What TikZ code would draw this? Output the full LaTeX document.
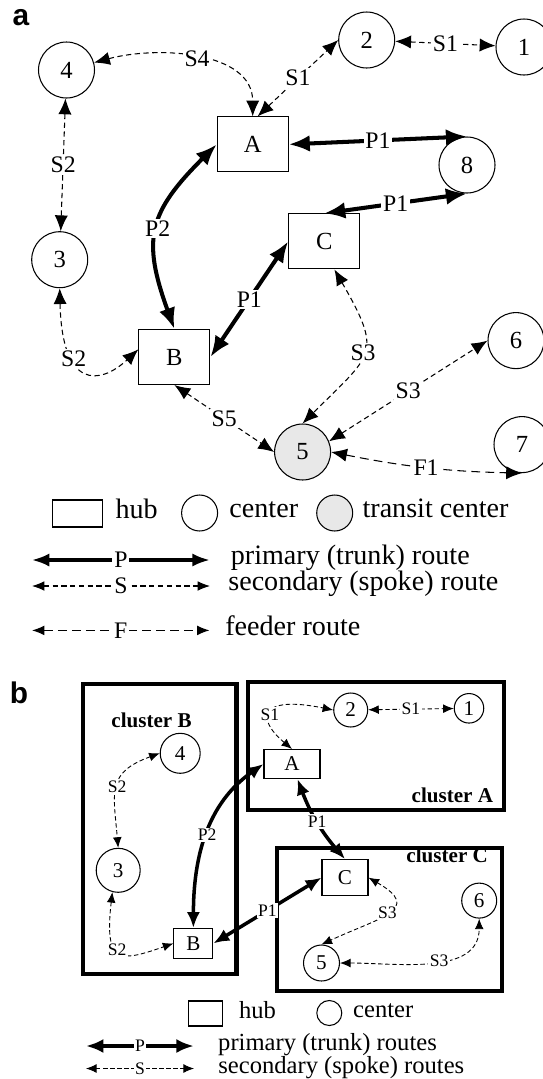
\documentclass[tikz,border=0pt]{standalone}
\usepackage{fontspec}
\setmainfont{Liberation Serif}
\newfontfamily\panelfont{Liberation Sans}
\usetikzlibrary{arrows.meta,positioning}

\begin{document}
\begin{tikzpicture}[x=0.02cm, y=0.02cm,
		hub/.style={draw, line width=0.6pt, minimum width=1.42cm, minimum height=1.1cm, inner sep=0pt, font=\fontsize{14}{16}\selectfont},
		cen/.style={draw, circle, line width=0.6pt, minimum size=1.12cm, inner sep=0pt, font=\fontsize{14}{16}\selectfont},
		transit/.style={cen, fill=black!9},
		trunk/.style={<->, line width=2.3pt, >={Latex[length=12pt, width=9.5pt]}},
		spoke/.style={<->, line width=0.6pt, dash pattern=on 3pt off 2pt, >={Latex[length=9pt, width=7.5pt]}},
		feeder/.style={spoke, dash pattern=on 5pt off 3pt},
		lab/.style={fill=white, inner sep=1pt, font=\fontsize{13.5}{15}\selectfont},
		legtext/.style={inner sep=0pt, text height=0.78em, text depth=0.22em, font=\fontsize{16}{18}\selectfont},
		bhub/.style={draw, line width=0.6pt, inner sep=0pt, font=\fontsize{12}{14}\selectfont},
		bcen/.style={draw, circle, line width=0.6pt, minimum size=0.7cm, inner sep=0pt, font=\fontsize{12}{14}\selectfont},
		btrunk/.style={<->, line width=2pt, >={Latex[length=9pt, width=7.5pt]}},
		bspoke/.style={<->, line width=0.5pt, dash pattern=on 2.5pt off 1.5pt, >={Latex[length=6pt, width=5pt]}},
		blab/.style={fill=white, inner sep=0.8pt, font=\fontsize{10}{12}\selectfont},
		blegtext/.style={inner sep=0pt, text height=0.72em, text depth=0.2em, font=\fontsize{14}{16}\selectfont},
		cluster/.style={line width=2.3pt},
		clab/.style={inner sep=0pt, font=\bfseries\fontsize{12}{14}\selectfont},
		panel/.style={font=\panelfont\bfseries\fontsize{17}{19}\selectfont}]
		\useasboundingbox (0,0) rectangle (543,-1079);

		\node[panel] (pa) at (21,-18) {a};
		\node[hub] (A) at (252.7,-144.4) {A};
		\node[hub] (B) at (174.4,-357) {B};
		\node[hub] (C) at (324.2,-241.4) {C};
		\node[cen] (n1) at (524,-47) {1};
		\node[cen] (n2) at (366.7,-40) {2};
		\node[cen] (n3) at (59.7,-259.7) {3};
		\node[cen] (n4) at (66.5,-70) {4};
		\node[transit] (n5) at (302.6,-452) {5};
		\node[cen] (n6) at (516,-340.6) {6};
		\node[cen] (n7) at (522,-444.6) {7};
		\node[cen] (n8) at (467,-165) {8};

		\path (n4) edge[spoke, out=15, in=90] node[lab] {S4} (A)
		           edge[spoke] node[lab] {S2} (n3)
		      (A.80) edge[spoke] node[lab] {S1} (n2.west)
		      (n2) edge[spoke] node[lab] {S1} (n1)
		      (A.east) edge[trunk] node[lab] {P1} (n8.north)
		      (C.north) edge[trunk] node[lab] {P1} (n8.south)
		      (B.north) edge[trunk, out=110, in=225, looseness=1.3] node[lab] {P2} (A.west)
		      (B.east) edge[trunk] node[lab] {P1} (C.west)
		      (C.290) edge[spoke, out=-60, in=45, looseness=1.6] node[lab] {S3} (n5.north)
		      (B.south) edge[spoke] node[lab] {S5} (n5.west)
		      (n5.22) edge[spoke] node[lab] {S3} (n6.west)
		      (n5.east) edge[feeder, bend right=5] node[lab] {F1} (n7.south);
		\draw[spoke] (n3.south) .. controls (62,-390) and (100,-385) .. node[lab, pos=0.35] {S2} (B.168);

		\node[draw, line width=0.6pt, minimum width=1cm, minimum height=0.54cm] (lhub) at (77.7,-513.5) {};
		\node[legtext, right=0.24cm of lhub] (thub) {hub};
		\node[cen, minimum size=0.72cm] (lcen) at (199.6,-513) {};
		\node[legtext, right=0.22cm of lcen] (tcen) {center};
		\node[transit, minimum size=0.72cm] (ltra) at (334.7,-513) {};
		\node[legtext, right=0.18cm of ltra] (ttra) {transit center};
		\coordinate (lp1) at (31.7,-560);
		\coordinate (lp2) at (210,-560);
		\coordinate (ls1) at (32,-586);
		\coordinate (ls2) at (210,-586);
		\coordinate (lf1) at (32,-630.4);
		\coordinate (lf2) at (209.5,-630.4);
		\draw[trunk, >={Latex[length=10pt, width=7.5pt]}] (lp1) -- node[lab] {P} (lp2);
		\draw[spoke, >={Latex[length=7pt, width=5.5pt]}] (ls1) -- node[lab] {S} (ls2);
		\draw[feeder, >={Latex[length=7pt, width=5.5pt]}] (lf1) -- node[lab] {F} (lf2);
		\node[legtext, right=0.41cm of lp2] (tp) {primary (trunk) route};
		\node[legtext, right=0.36cm of ls2] (ts) {secondary (spoke) route};
		\node[legtext, right=0.31cm of lf2] (tf) {feeder route};

		\node[panel] (pb) at (19,-693) {b};
		\draw[cluster] (83.1,-684) rectangle (236.5,-974.3);
		\draw[cluster] (248.3,-682.3) rectangle (503.8,-810.4);
		\draw[cluster] (277,-847.8) rectangle (502,-990.6);
		\node[clab] (kB) at (151.5,-720.4) {cluster B};
		\node[clab, anchor=east] (kA) at (493.4,-795) {cluster A};
		\node[clab, anchor=east] (kC) at (488.2,-855.6) {cluster C};

		\node[bhub, minimum width=1.12cm, minimum height=0.58cm] (bA) at (292,-764) {A};
		\node[bhub, minimum width=0.78cm, minimum height=0.6cm] (bB) at (193.4,-943.4) {B};
		\node[bhub, minimum width=0.92cm, minimum height=0.72cm] (bC) at (345,-877.6) {C};
		\node[bcen, minimum size=0.59cm] (b1) at (469,-708.3) {1};
		\node[bcen, minimum size=0.68cm] (b2) at (350.7,-710) {2};
		\node[bcen, minimum size=0.88cm] (b3) at (118.2,-870.3) {3};
		\node[bcen, minimum size=0.8cm] (b4) at (180.2,-753.3) {4};
		\node[bcen, minimum size=0.72cm] (b5) at (321.5,-963) {5};
		\node[bcen] (b6) at (479.2,-900.6) {6};

		\path (b2) edge[bspoke] node[blab] {S1} (b1)
		      (b4.west) edge[bspoke, out=200, in=95, looseness=1.4] node[blab] {S2} (b3.north)
		      (bB.north) edge[btrunk, out=90, in=215] node[blab] {P2} (bA.west)
		      (bA.290) edge[btrunk, bend right=10] node[blab] {P1} (bC.north)
		      (bB.east) edge[btrunk] node[blab] {P1} (bC.west)
		      (bC.east) edge[bspoke, out=-30, in=25, looseness=2] node[blab] {S3} (b5.north)
		      (b5.east) edge[bspoke, out=0, in=-90] node[blab, pos=0.55] {S3} (b6.south);
		\draw[bspoke] (bA.north) .. controls (255,-718) and (260,-695) .. node[blab, pos=0.45] {S1} (b2.west);
		\draw[bspoke] (b3.255) .. controls (104,-965) and (120,-962) .. node[blab, pos=0.45] {S2} (bB.west);

		\node[draw, line width=0.6pt, minimum width=0.68cm, minimum height=0.5cm] (mhub) at (205.7,-1013.5) {};
		\node[blegtext, right=0.31cm of mhub] (uhub) {hub};
		\node[draw, circle, line width=0.6pt, minimum size=0.5cm] (mcen) at (329.3,-1013) {};
		\node[blegtext, right=0.21cm of mcen] (ucen) {center};
		\coordinate (mp1) at (85.9,-1046);
		\coordinate (mp2) at (193.9,-1046);
		\coordinate (ms1) at (86,-1068.5);
		\coordinate (ms2) at (194,-1068.5);
		\draw[btrunk, >={Latex[length=10pt, width=8pt]}] (mp1) -- node[blab] {P} (mp2);
		\draw[bspoke] (ms1) -- node[blab] {S} (ms2);
		\node[blegtext, right=0.48cm of mp2] (up) {primary (trunk) routes};
		\node[blegtext, right=0.48cm of ms2] (us) {secondary (spoke) routes};
	\end{tikzpicture}
\end{document}
